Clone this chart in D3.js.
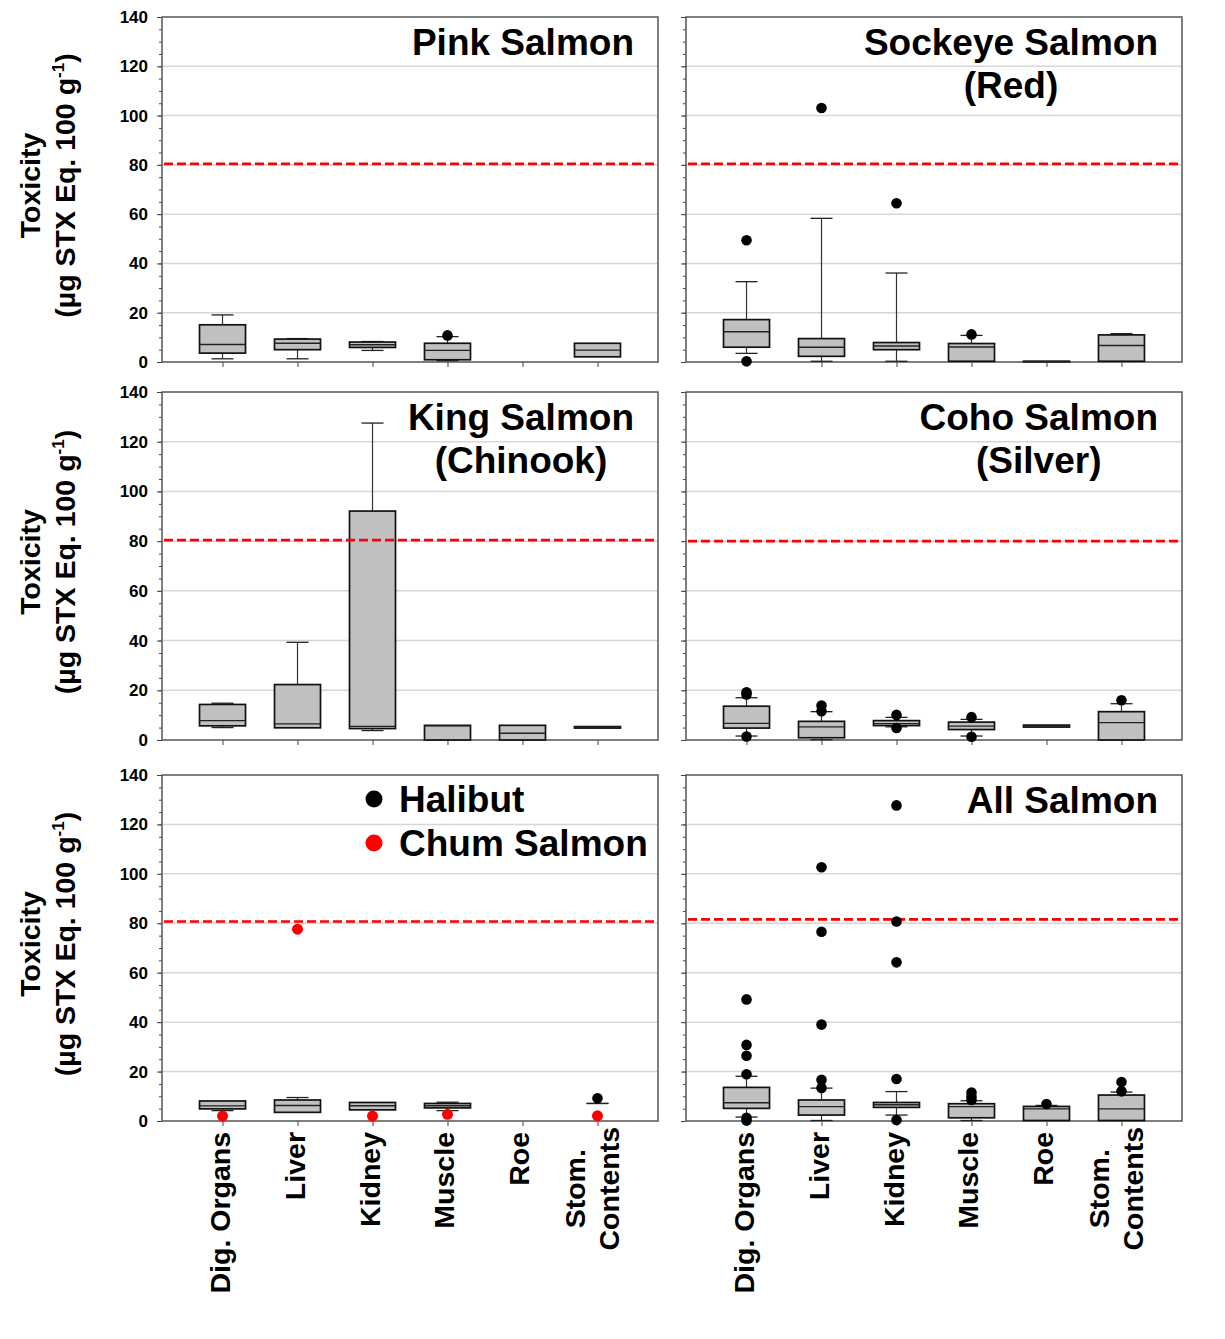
<!DOCTYPE html>
<html>
<head>
<meta charset="utf-8">
<script src="https://cdn.jsdelivr.net/npm/d3@7"></script>
<style>
  body { margin: 0; background: #fff; }
  svg { font-family: "Liberation Sans", Arial, sans-serif; font-weight: bold; }
</style>
</head>
<body>
<svg id="chart" width="1225" height="1339"></svg>
<script>
const organs = ['Dig. Organs', 'Liver', 'Kidney', 'Muscle', 'Roe', 'Stom. Contents'];
const organLabels = [['Dig. Organs'], ['Liver'], ['Kidney'], ['Muscle'], ['Roe'], ['Stom.', 'Contents']];
const yTicks = [0, 20, 40, 60, 80, 100, 120, 140];

const panelTitles = [['Pink Salmon'], ['Sockeye Salmon', '(Red)'], ['King Salmon', '(Chinook)'],
  ['Coho Salmon', '(Silver)'], [], ['All Salmon']];
// regulatory limit line as drawn in each panel
const thresholds = [80.4, 80.4, 80.4, 80, 80.7, 81.6];

// box stats per organ: [low whisker, q1, median, q3, high whisker]; null = no samples
const pinkBoxes = [[1.3, 3.6, 7.1, 15.1, 19.1], [1.3, 5.0, 7.6, 9.3, 9.5], [4.7, 5.9, 7.0, 8.1, 8.3],
  [0.5, 0.9, 4.7, 7.6, 10.3], null, [2.1, 2.1, 4.8, 7.6, 7.6]];
const pinkOutliers = [[], [], [], [10.8], [], []];

const sockeyeBoxes = [[3.5, 6.0, 12.3, 17.2, 32.6], [0.3, 2.3, 6.0, 9.5, 58.3], [0.3, 5.0, 6.5, 7.9, 36.1],
  [0.3, 0.3, 6.1, 7.5, 10.8], [0.1, 0.1, 0.2, 0.3, 0.3], [0.3, 0.3, 6.7, 11.0, 11.5]];
const sockeyeOutliers = [[49.4, 0.3], [103.1], [64.4], [11.2], [], []];

const kingBoxes = [[5.0, 5.7, 7.8, 14.3, 14.8], [4.9, 4.9, 6.5, 22.3, 39.3], [3.8, 4.6, 5.5, 92.1, 127.5],
  [0, 0, 5.7, 5.9, 5.9], [0, 0, 2.7, 5.9, 5.9], [4.8, 4.8, 5.1, 5.4, 5.4]];
const kingOutliers = [[], [], [], [], [], []];

const cohoBoxes = [[1.6, 4.8, 6.7, 13.6, 17.0], [0.1, 0.9, 5.3, 7.5, 11.4], [5.3, 5.8, 6.6, 7.8, 9.1],
  [1.6, 4.2, 5.6, 7.2, 8.3], [5.2, 5.2, 5.6, 6.0, 6.0], [0, 0, 7.0, 11.4, 14.6]];
const cohoOutliers = [[19.2, 18.3, 1.4], [13.9, 11.6], [10.1, 4.8], [9.2, 1.3], [], [16.0]];

const halibutBoxes = [[4.2, 4.9, 6.1, 8.1, 8.1], [3.5, 3.5, 6.3, 8.5, 9.5], [4.5, 4.5, 6.2, 7.5, 7.5],
  [4.2, 5.3, 6.2, 7.1, 7.6], null, [7.1, 7.1, 7.1, 7.1, 7.1]];
const halibutOutliers = [[], [], [], [], [], [9.2]];
const chumValues = [2.0, 77.6, 2.0, 2.7, null, 2.1];

const allBoxes = [[1.6, 5.1, 7.4, 13.6, 18.1], [0.2, 2.4, 5.8, 8.5, 13.3], [2.4, 5.5, 6.6, 7.5, 11.9],
  [0.2, 1.3, 5.8, 7.0, 8.2], [0.2, 0.2, 4.9, 5.9, 6.3], [0.2, 0.2, 4.9, 10.5, 11.7]];
const allOutliers = [[49.2, 30.8, 26.4, 18.9, 1.3, 0.2], [102.7, 76.6, 39.0, 16.7, 13.4],
  [127.7, 80.7, 64.2, 17.0, 0.4], [11.5, 9.8, 8.5], [6.9], [15.8, 12.0]];

const panelBoxes = [pinkBoxes, sockeyeBoxes, kingBoxes, cohoBoxes, halibutBoxes, allBoxes];
const panelOutliers = [pinkOutliers, sockeyeOutliers, kingOutliers, cohoOutliers, halibutOutliers, allOutliers];

const legendItems = [{ label: 'Halibut', color: '#000' }, { label: 'Chum Salmon', color: '#ff0000' }];

// layout
const cols = [{ x0: 162, x1: 658 }, { x0: 686, x1: 1182 }];
const rows = [{ y0: 17, y1: 362 }, { y0: 392, y1: 740 }, { y0: 775, y1: 1121 }];
const boxW = 46, capW = 22;

const svg = d3.select('#chart');

panelBoxes.forEach((boxes, i) => {
  const col = cols[i % 2];
  const row = rows[Math.floor(i / 2)];
  const isLeft = i % 2 === 0;
  const isBottom = Math.floor(i / 2) === rows.length - 1;

  const x = d3.scalePoint().domain(organs).range([col.x0, col.x1]).padding(0.807);
  const y = d3.scaleLinear().domain([0, 140]).range([row.y1, row.y0]);

  const g = svg.append('g');

  // grid
  g.selectAll('line.grid')
    .data(yTicks.filter(t => t > 0 && t < 140))
    .join('line')
    .attr('x1', col.x0).attr('x2', col.x1)
    .attr('y1', d => y(d)).attr('y2', d => y(d))
    .attr('stroke', '#d6d6d6').attr('stroke-width', 1.5);

  // minor + major y ticks
  g.append('g')
    .attr('transform', `translate(${col.x0},0)`)
    .call(d3.axisLeft(y).tickValues(d3.range(0, 141, 5)).tickSize(3).tickFormat(''))
    .call(a => a.select('.domain').remove())
    .selectAll('line').attr('stroke', '#444');

  const major = g.append('g')
    .attr('transform', `translate(${col.x0},0)`)
    .call(d3.axisLeft(y).tickValues(yTicks).tickSize(5).tickPadding(9)
      .tickFormat(d => isLeft ? d : ''))
    .call(a => a.select('.domain').remove());
  major.selectAll('line').attr('stroke', '#444');
  major.selectAll('text')
    .attr('font-size', 17).attr('font-weight', 'bold')
    .attr('font-family', '"Liberation Sans", Arial, sans-serif').attr('fill', '#000');

  // x ticks
  g.append('g')
    .attr('transform', `translate(0,${row.y1})`)
    .call(d3.axisBottom(x).tickSize(5).tickFormat(''))
    .call(a => a.select('.domain').remove())
    .selectAll('line').attr('stroke', '#444');

  // frame
  g.append('rect')
    .attr('x', col.x0).attr('y', row.y0)
    .attr('width', col.x1 - col.x0).attr('height', row.y1 - row.y0)
    .attr('fill', 'none').attr('stroke', '#555').attr('stroke-width', 1.5);

  // boxes
  boxes.forEach((s, k) => {
    if (!s) return;
    const cx = x(organs[k]);
    const [lo, q1, med, q3, hi] = s;
    const bg = g.append('g');
    if (hi > q3) {
      bg.append('line').attr('x1', cx).attr('x2', cx).attr('y1', y(q3)).attr('y2', y(hi))
        .attr('stroke', '#333').attr('stroke-width', 1.2);
    }
    if (lo < q1) {
      bg.append('line').attr('x1', cx).attr('x2', cx).attr('y1', y(q1)).attr('y2', y(lo))
        .attr('stroke', '#333').attr('stroke-width', 1.2);
    }
    [hi, lo].forEach(v => {
      if ((v === hi && hi > q3) || (v === lo && lo < q1) || q3 === q1) {
        bg.append('line').attr('x1', cx - capW / 2).attr('x2', cx + capW / 2)
          .attr('y1', y(v)).attr('y2', y(v))
          .attr('stroke', '#222').attr('stroke-width', 1.3);
      }
    });
    if (q3 > q1) {
      bg.append('rect')
        .attr('x', cx - boxW / 2).attr('width', boxW)
        .attr('y', y(q3)).attr('height', y(q1) - y(q3))
        .attr('fill', '#c0c0c0').attr('stroke', '#111').attr('stroke-width', 1.7);
      bg.append('line').attr('x1', cx - boxW / 2).attr('x2', cx + boxW / 2)
        .attr('y1', y(med)).attr('y2', y(med))
        .attr('stroke', '#222').attr('stroke-width', 1.4);
    }
  });

  // threshold (drawn over the boxes)
  g.append('line')
    .attr('x1', col.x0 + 2).attr('x2', col.x1 - 3)
    .attr('y1', y(thresholds[i])).attr('y2', y(thresholds[i]))
    .attr('stroke', '#ff0000').attr('stroke-width', 2.6)
    .attr('stroke-dasharray', '9,4');

  // outliers
  panelOutliers[i].forEach((vals, k) => {
    g.selectAll(null).data(vals).join('circle')
      .attr('cx', x(organs[k])).attr('cy', d => y(d)).attr('r', 5.3)
      .attr('fill', '#000');
  });

  // chum salmon points in halibut panel
  if (i === 4) {
    g.selectAll('circle.chum')
      .data(chumValues.map((v, k) => ({ v, k })).filter(d => d.v != null))
      .join('circle')
      .attr('class', 'chum')
      .attr('cx', d => x(organs[d.k])).attr('cy', d => y(d.v)).attr('r', 5.5)
      .attr('fill', '#ff0000');

    const lg = g.selectAll('g.legend').data(legendItems).join('g')
      .attr('transform', (d, j) => `translate(${col.x0 + 212},${row.y0 + 24 + j * 44})`);
    lg.append('circle').attr('r', 8.5).attr('fill', d => d.color);
    lg.append('text').attr('x', 25).attr('dy', '0.36em')
      .attr('font-size', 37).text(d => d.label);
  }

  // panel title (lines centred on each other, block right aligned)
  const title = panelTitles[i];
  if (title.length) {
    const t = g.append('text').attr('font-size', 37).attr('text-anchor', 'middle');
    const spans = title.map((line, j) => t.append('tspan').attr('y', row.y0 + 38 + j * 43).text(line));
    const maxW = d3.max(spans, s => s.node().getComputedTextLength());
    spans.forEach(s => s.attr('x', col.x1 - 24 - maxW / 2));
  }

  // y axis title
  if (isLeft) {
    const yc = (row.y0 + row.y1) / 2 - 4;
    const yt = g.append('text')
      .attr('transform', `translate(0,${yc}) rotate(-90)`)
      .attr('text-anchor', 'middle').attr('font-size', 28.5);
    yt.append('tspan').attr('x', 0).attr('y', 40).text('Toxicity');
    yt.append('tspan').attr('x', 0).attr('y', 75).text('(µg STX Eq. 100 g');
    yt.append('tspan').attr('font-size', 17).attr('dy', -11).text('-1');
    yt.append('tspan').attr('dy', 11).text(')');
  }

  // category labels
  if (isBottom) {
    organLabels.forEach((lines, k) => {
      const cx = x(organs[k]);
      const t = g.append('text').attr('font-size', 28.5)
        .attr('transform', `translate(${cx},${row.y1 + 11}) rotate(-90)`);
      if (lines.length === 1) {
        t.attr('text-anchor', 'end').attr('y', 7).text(lines[0]);
      } else {
        t.attr('text-anchor', 'middle');
        const spans = lines.map((line, j) => t.append('tspan').attr('y', -12 + j * 34).text(line));
        const maxW = d3.max(spans, s => s.node().getComputedTextLength());
        spans.forEach(s => s.attr('x', 5 - maxW / 2));
      }
    });
  }
});
</script>
</body>
</html>
